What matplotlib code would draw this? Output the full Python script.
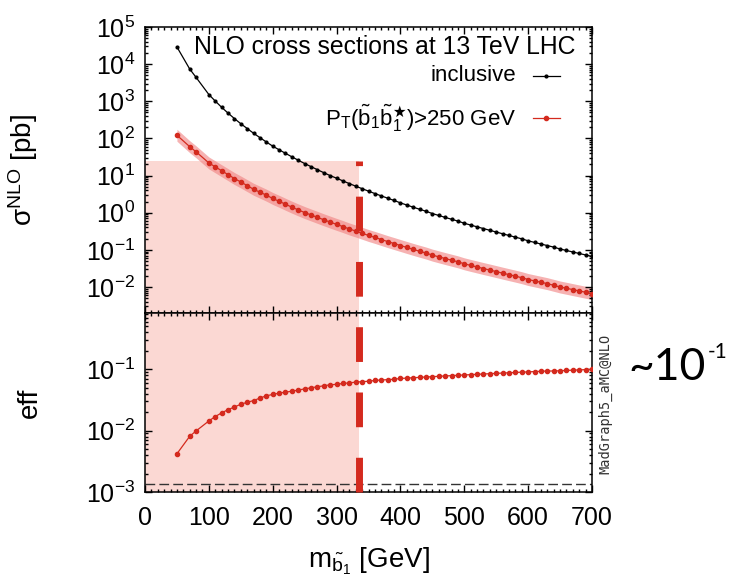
import numpy as np
import matplotlib
matplotlib.use('Agg')
import matplotlib.pyplot as plt
from matplotlib.lines import Line2D
from matplotlib.ticker import LogLocator, MultipleLocator, NullFormatter

plt.rcParams['font.family'] = ['Liberation Sans', 'DejaVu Sans']
plt.rcParams['mathtext.fontset'] = 'custom'
plt.rcParams['mathtext.rm'] = 'Liberation Sans'
plt.rcParams['mathtext.it'] = 'Liberation Sans:italic'
plt.rcParams['mathtext.bf'] = 'Liberation Sans:bold'
plt.rcParams['mathtext.fallback'] = 'stixsans'

# sbottom mass points [GeV]
mass = [50, 70, 80, 100, 110, 120, 130, 140, 150, 160, 170, 180, 190, 200,
        210, 220, 230, 240, 250, 260, 270, 280, 290, 300, 310, 320, 330, 340,
        350, 360, 370, 380, 390, 400, 410, 420, 430, 440, 450, 460, 470, 480,
        490, 500, 510, 520, 530, 540, 550, 560, 570, 580, 590, 600, 610, 620,
        630, 640, 650, 660, 670, 680, 690, 700]

# inclusive NLO cross section [pb]
xs_incl = [29000, 7400, 4400, 1520, 1014, 690, 481, 343, 249, 185, 138, 105,
           80.3, 62.0, 49.5, 39.7, 32.0, 25.9, 21.1, 17.4, 14.4, 11.95, 9.98,
           8.5, 7.17, 6.08, 5.18, 4.44, 3.81, 3.28, 2.84, 2.46, 2.14, 1.84,
           1.61, 1.41, 1.24, 1.095, 0.95, 0.843, 0.749, 0.667, 0.595, 0.52,
           0.465, 0.417, 0.374, 0.336, 0.302, 0.271, 0.244, 0.220, 0.198,
           0.175, 0.1585, 0.1437, 0.1304, 0.1185, 0.1056, 0.0961, 0.0876,
           0.0799, 0.0729, 0.0666]

# cross section with PT(b1 b1*) > 250 GeV [pb]
xs_ptcut = [122, 60, 43.6, 21.9, 17.2, 13.5, 10.6, 8.33, 6.72, 5.37, 4.28,
            3.57, 2.97, 2.42, 2.03, 1.69, 1.41, 1.19, 1.01, 0.870, 0.749,
            0.645, 0.559, 0.485, 0.423, 0.365, 0.321, 0.280, 0.244, 0.216,
            0.190, 0.167, 0.148, 0.131, 0.116, 0.103, 0.0918, 0.0821, 0.0722,
            0.0649, 0.0584, 0.0527, 0.0476, 0.0421, 0.0381, 0.0346, 0.0314,
            0.0286, 0.0260, 0.0236, 0.0215, 0.0196, 0.0178, 0.0159, 0.0146,
            0.0134, 0.0123, 0.0111, 0.0100, 0.00923, 0.00850, 0.00783,
            0.00722, 0.00666]

# efficiency of the cut
eff = [0.0042, 0.0081, 0.0099, 0.0144, 0.0170, 0.0195, 0.0220, 0.0243,
       0.027, 0.029, 0.031, 0.034, 0.037, 0.039, 0.041, 0.0425, 0.044, 0.046,
       0.048, 0.050, 0.052, 0.054, 0.056, 0.057, 0.059, 0.060, 0.062, 0.063,
       0.064, 0.066, 0.067, 0.068, 0.069, 0.071, 0.072, 0.073, 0.074, 0.075,
       0.076, 0.077, 0.078, 0.079, 0.080, 0.081, 0.082, 0.083, 0.084, 0.085,
       0.086, 0.087, 0.088, 0.089, 0.090, 0.091, 0.092, 0.093, 0.094, 0.094,
       0.095, 0.096, 0.097, 0.098, 0.099, 0.100]

scale_unc = 1.45     # band around the PT-cut curve
mass_limit = 335     # excluded region / dashed line [GeV]
xs_limit = 25        # top of the shaded region [pb]
eff_ref = 1.35e-3    # dashed reference in the eff panel

red = '#d42a1e'
shade = '#fbd8d3'

fig = plt.figure(figsize=(7.39, 5.86), dpi=100)
ax1 = fig.add_axes([145/739, 1-313/586, 447/739, 286/586])
ax2 = fig.add_axes([145/739, 1-492/586, 447/739, 179/586])

ylo1, yhi1 = 10**-2.7, 1e5
ylo2, yhi2 = 1e-3, 0.83

# upper panel
ax1.fill_between([0, mass_limit], ylo1, xs_limit, color=shade, lw=0, zorder=0)
ax1.fill_between(mass, np.array(xs_ptcut)/scale_unc, np.array(xs_ptcut)*scale_unc,
                 color='#f08080', alpha=0.6, lw=0, zorder=1)
ax1.plot(mass, xs_incl, '-', color='k', lw=0.9, marker='o', ms=2.0, zorder=3)
ax1.plot(mass, xs_ptcut, '-', color=red, lw=0.9, marker='o', ms=3, zorder=3)

# lower panel
ax2.fill_between([0, mass_limit], ylo2, yhi2, color=shade, lw=0, zorder=0)
ax2.axhline(eff_ref, color='#333333', lw=1, dashes=(7, 3), zorder=2)
ax2.plot(mass, eff, '-', color=red, lw=0.9, marker='o', ms=3, zorder=3)

for ax in (ax1, ax2):
    ax.set_yscale('log')
    ax.set_xlim(0, 700)
    ax.xaxis.set_major_locator(MultipleLocator(100))
    ax.xaxis.set_minor_locator(MultipleLocator(10))
    ax.yaxis.set_major_locator(LogLocator(base=10, numticks=20))
    ax.yaxis.set_minor_locator(LogLocator(base=10, subs=np.arange(2, 10), numticks=20))
    ax.yaxis.set_minor_formatter(NullFormatter())
    ax.tick_params(which='both', direction='in', top=True, right=True,
                   labelsize=18, width=1)
    ax.tick_params(which='major', length=5)
    ax.tick_params(which='minor', length=2.5)
    ax.tick_params(axis='y', pad=7)
    ax.tick_params(axis='x', pad=10)
    for sp in ax.spines.values():
        sp.set_linewidth(1.1)

ax1.set_ylim(ylo1, yhi1)
ax2.set_ylim(ylo2, yhi2)
ax1.tick_params(labelbottom=False)

ax1.set_ylabel('σ$^{\\mathrm{NLO}}$ [pb]', fontsize=20)
ax1.yaxis.set_label_coords(-0.235, 0.5)
ax2.set_ylabel('eff', fontsize=20)
ax2.yaxis.set_label_coords(-0.228, 0.5)
ax2.set_xlabel(r'm$_{\tilde{\mathrm{b}}_1}$ [GeV]', fontsize=20)
ax2.xaxis.set_label_coords(0.5, -0.30)

# key
ax1.text(0.962, 0.930, 'NLO cross sections at 13 TeV LHC', transform=ax1.transAxes,
         ha='right', va='center', fontsize=17.8)
ax1.text(0.830, 0.829, 'inclusive', transform=ax1.transAxes,
         ha='right', va='center', fontsize=16)
ax1.text(0.830, 0.682,
         r'P$_\mathrm{T}$($\tilde{\mathrm{b}}_1\tilde{\mathrm{b}}_1^{\bigstar}$)>250 GeV',
         transform=ax1.transAxes, ha='right', va='center', fontsize=16)
ax1.plot([0.868, 0.928], [0.829, 0.829], transform=ax1.transAxes, color='k', lw=0.9)
ax1.plot([0.898], [0.829], transform=ax1.transAxes, color='k', marker='o', ms=2.0)
ax1.plot([0.868, 0.928], [0.682, 0.682], transform=ax1.transAxes, color=red, lw=0.9)
ax1.plot([0.898], [0.682], transform=ax1.transAxes, color=red, marker='o', ms=3)

# thick dashed line across both panels
inv = fig.transFigure.inverted()
p0 = inv.transform(ax2.transData.transform((mass_limit, ylo2)))
p1 = inv.transform(ax1.transData.transform((mass_limit, xs_limit)))
fig.add_artist(Line2D([p0[0], p1[0]], [p0[1], p1[1]], transform=fig.transFigure,
                      color=red, lw=5, dashes=(5.0, 4.4), zorder=5))

fig.text(605/739, 1-404/586, 'MadGraph5_aMC@NLO', rotation=90, ha='center',
         va='center', fontsize=9.8, family='DejaVu Sans Mono', color='#333333')

fig.text(628/739, 1-368/586, '~10', ha='left', va='center', fontsize=32,
         family='Lato')
fig.text(708/739, 1-352/586, '-1', ha='left', va='center', fontsize=15,
         family='Lato')

fig.savefig('out.png', dpi=100)
